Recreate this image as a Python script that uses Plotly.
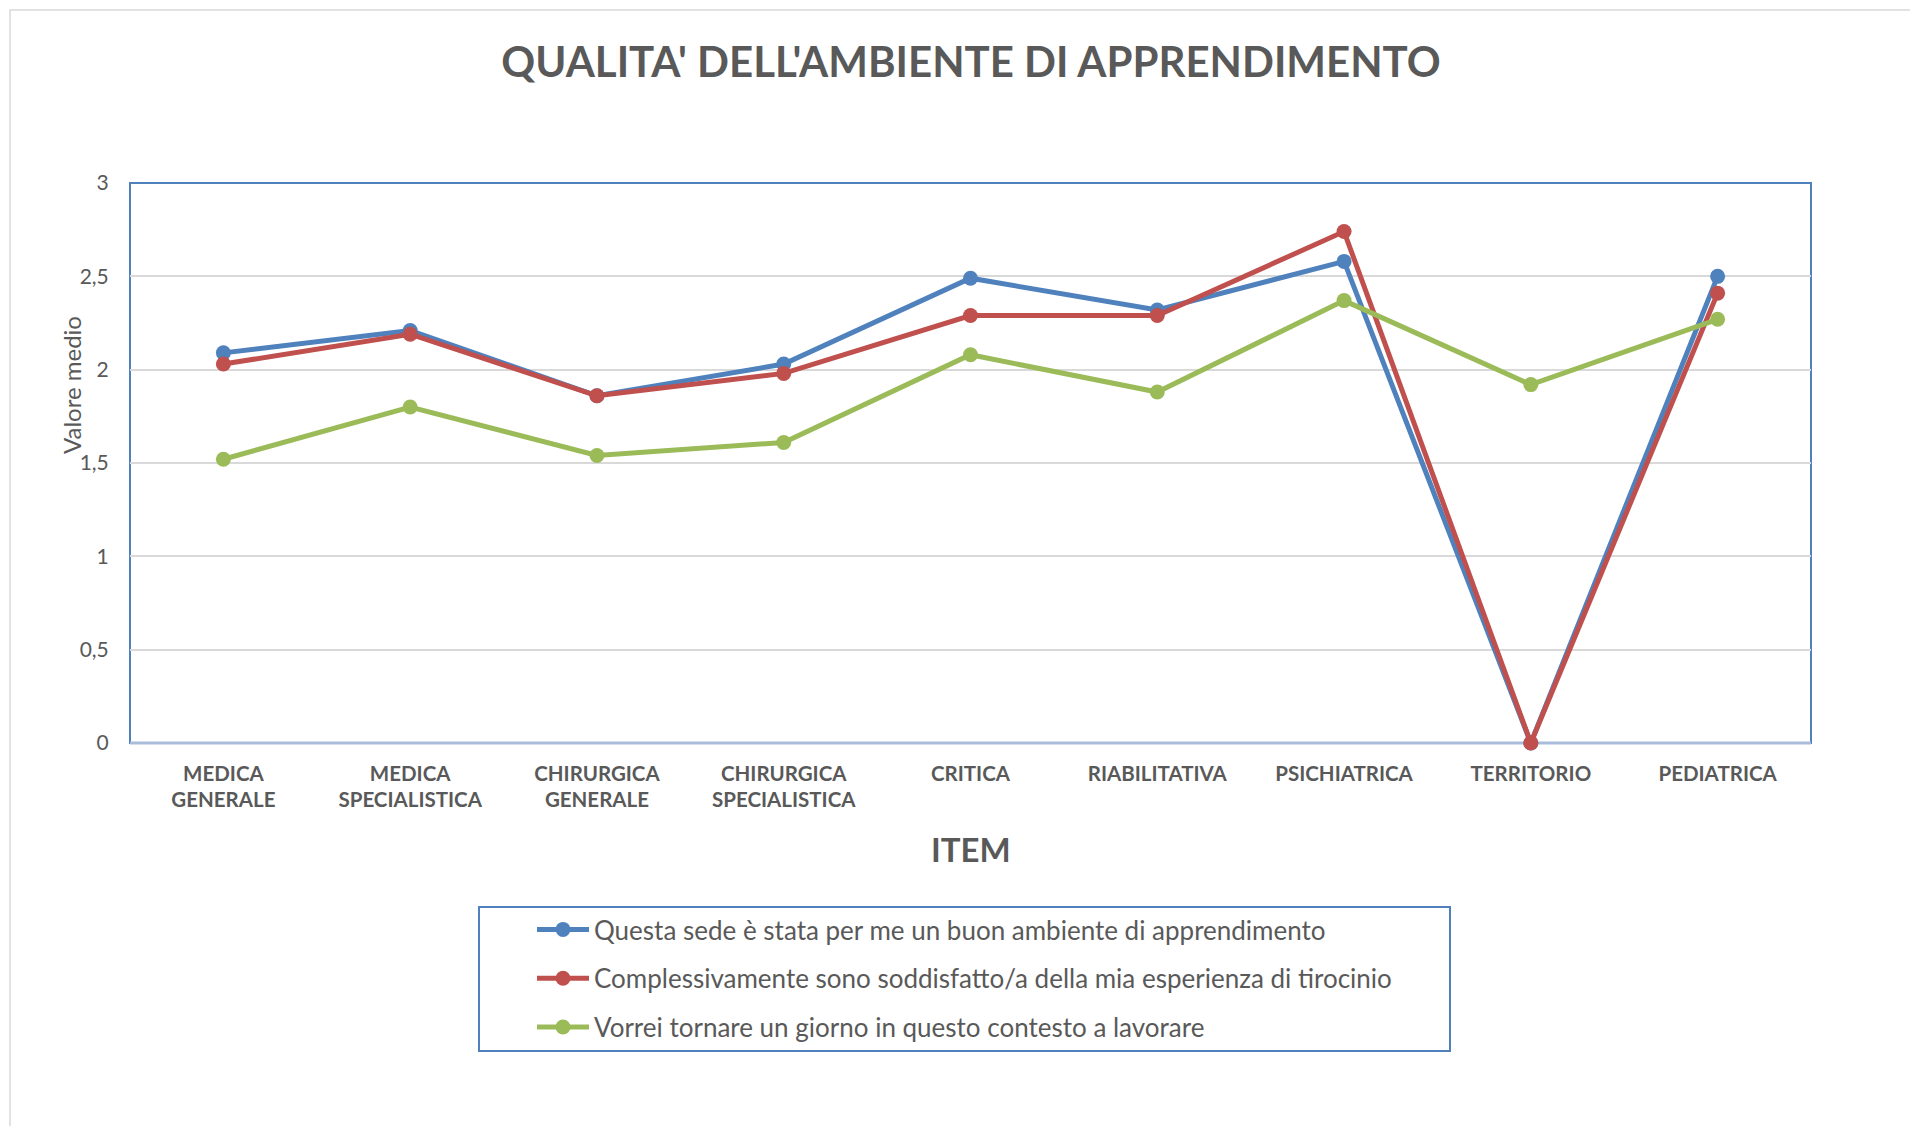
import plotly.graph_objects as go

categories = ["MEDICA<br>GENERALE", "MEDICA<br>SPECIALISTICA", "CHIRURGICA<br>GENERALE",
              "CHIRURGICA<br>SPECIALISTICA", "CRITICA", "RIABILITATIVA",
              "PSICHIATRICA", "TERRITORIO", "PEDIATRICA"]
serie_names = ["Questa sede è stata per me un buon ambiente di apprendimento",
               "Complessivamente sono soddisfatto/a della mia esperienza di tirocinio",
               "Vorrei tornare un giorno in questo contesto a lavorare"]
ambiente = [2.09, 2.21, 1.86, 2.03, 2.49, 2.32, 2.58, 0.0, 2.50]
soddisfatto = [2.03, 2.19, 1.86, 1.98, 2.29, 2.29, 2.74, 0.0, 2.41]
tornare = [1.52, 1.80, 1.54, 1.61, 2.08, 1.88, 2.37, 1.92, 2.27]
y_tickvals = [0, 0.5, 1, 1.5, 2, 2.5, 3]
y_ticktext = ["0", "0,5", "1", "1,5", "2", "2,5", "3"]

colors = ["#4F81BD", "#C0504D", "#9BBB59"]
W, H = 1910, 1126
L, R, T, B = 130, 1811, 183, 743
FONT = "Lato"
GREY = "#595959"

def px(x):
    return (x - L) / (R - L)

def py(y):
    return (B - y) / (B - T)

fig = go.Figure()
for i, (name, vals) in enumerate(zip(serie_names, [ambiente, soddisfatto, tornare])):
    fig.add_trace(go.Scatter(
        x=list(range(len(categories))), y=vals, name=name, mode="lines+markers",
        line=dict(color=colors[i], width=5),
        marker=dict(color=colors[i], size=15),
        legendgroup=f"g{i}", cliponaxis=False,
    ))

fig.update_layout(
    width=W, height=H,
    margin=dict(l=L, r=W - R, t=T, b=H - B, autoexpand=False),
    paper_bgcolor="white", plot_bgcolor="white",
    font=dict(family=FONT, color=GREY),
    title=dict(text="<b>QUALITA' DELL'AMBIENTE DI APPRENDIMENTO</b>",
               x=971 / W, xanchor="center", y=1 - 62 / H, yanchor="middle",
               xref="container", yref="container",
               font=dict(family=FONT, size=42, color=GREY)),
    showlegend=True,
    legend=dict(x=px(532), y=py(906), xanchor="left", yanchor="top",
                bgcolor="rgba(0,0,0,0)", borderwidth=0,
                traceorder="grouped", tracegroupgap=12, itemwidth=52,
                font=dict(family=FONT, size=26, color=GREY)),
    xaxis=dict(range=[-0.5, 8.5], tickmode="array",
               tickvals=list(range(len(categories))),
               ticktext=[f"<b>{c}</b>" for c in categories],
               tickfont=dict(family=FONT, size=20.5, color=GREY),
               showgrid=False, zeroline=False, showline=False,
               ticks="outside", ticklen=12, tickcolor="rgba(0,0,0,0)"),
    yaxis=dict(range=[0, 3], tickmode="array", tickvals=y_tickvals, ticktext=y_ticktext,
               tickfont=dict(family=FONT, size=21, color=GREY),
               showgrid=True, gridcolor="#D9D9D9", gridwidth=2,
               zeroline=False, showline=False,
               ticks="outside", ticklen=16, tickcolor="rgba(0,0,0,0)"),
)

# y title
fig.add_annotation(text="Valore medio", xref="paper", yref="paper",
                   x=px(71), y=py(385), xanchor="center", yanchor="middle",
                   textangle=-90, showarrow=False,
                   font=dict(family=FONT, size=24, color=GREY))
# x title
fig.add_annotation(text="<b>ITEM</b>", xref="paper", yref="paper",
                   x=px(971), y=py(849), xanchor="center", yanchor="middle",
                   showarrow=False, font=dict(family=FONT, size=33, color=GREY))

# outer chart border
fig.add_shape(type="rect", xref="paper", yref="paper",
              x0=px(10), x1=px(1960), y0=py(10), y1=py(1200),
              line=dict(color="#D9D9D9", width=1.5), layer="below")
# plot area border
fig.add_shape(type="rect", xref="paper", yref="paper", x0=0, x1=1, y0=0, y1=1,
              line=dict(color="#4F81BD", width=2), layer="below")
# bottom axis line
fig.add_shape(type="line", xref="paper", yref="paper", x0=0, x1=1, y0=0, y1=0,
              line=dict(color="#A9BCDC", width=3), layer="below")
# legend box
fig.add_shape(type="rect", xref="paper", yref="paper",
              x0=px(479), x1=px(1450), y0=py(907), y1=py(1051),
              line=dict(color="#4F81BD", width=2))

fig.write_html("out.html", config={"displayModeBar": False},
               post_script="document.body.style.margin='0';document.body.style.overflow='hidden';")
